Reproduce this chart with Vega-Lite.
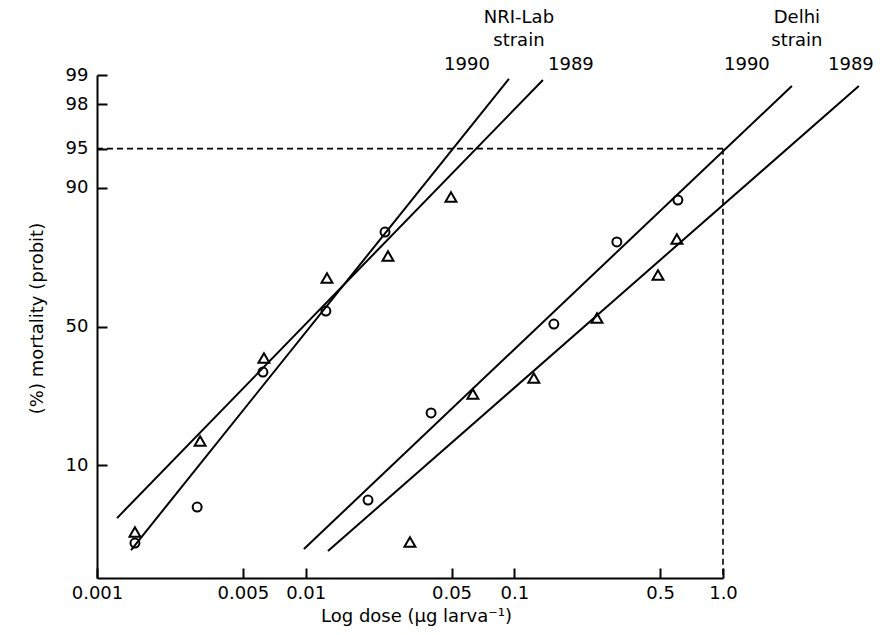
{
  "$schema": "https://vega.github.io/schema/vega-lite/v6.json",
  "width": 626,
  "height": 503,
  "autosize": {"type": "none"},
  "padding": {"left": 97, "top": 75, "right": 159, "bottom": 57},
  "background": "white",
  "config": {
    "view": {"stroke": null},
    "font": "DejaVu Sans",
    "axis": {
      "grid": false,
      "domainColor": "black",
      "domainWidth": 2,
      "tickColor": "black",
      "tickWidth": 2,
      "labelColor": "black",
      "titleColor": "black",
      "labelFont": "DejaVu Sans",
      "titleFont": "DejaVu Sans",
      "labelFontSize": 18,
      "titleFontSize": 18,
      "titleFontWeight": "normal"
    }
  },
  "datasets": {
    "fits": [
      {"strain": "NRI-Lab", "year": "1990", "dose": 0.001456, "probit": 2.932, "dose2": 0.0942, "probit2": 7.29},
      {"strain": "NRI-Lab", "year": "1989", "dose": 0.001247, "probit": 3.228, "dose2": 0.1371, "probit2": 7.28},
      {"strain": "Delhi", "year": "1990", "dose": 0.00981, "probit": 2.942, "dose2": 2.138, "probit2": 7.225},
      {"strain": "Delhi", "year": "1989", "dose": 0.01279, "probit": 2.923, "dose2": 4.478, "probit2": 7.225}
    ],
    "guides": [
      {"dose": 0.001, "probit": 6.6449, "dose2": 1.0, "probit2": 6.6449},
      {"dose": 1.0, "probit": 6.6449, "dose2": 1.0, "probit2": 2.6737}
    ],
    "points": [
      {"strain": "NRI-Lab", "year": "1990", "dose": 0.00152, "probit": 2.997},
      {"strain": "NRI-Lab", "year": "1990", "dose": 0.00302, "probit": 3.33},
      {"strain": "NRI-Lab", "year": "1990", "dose": 0.00624, "probit": 4.579},
      {"strain": "NRI-Lab", "year": "1990", "dose": 0.0125, "probit": 5.143},
      {"strain": "NRI-Lab", "year": "1990", "dose": 0.024, "probit": 5.874},
      {"strain": "NRI-Lab", "year": "1989", "dose": 0.00152, "probit": 3.099},
      {"strain": "NRI-Lab", "year": "1989", "dose": 0.00312, "probit": 3.941},
      {"strain": "NRI-Lab", "year": "1989", "dose": 0.00631, "probit": 4.709},
      {"strain": "NRI-Lab", "year": "1989", "dose": 0.01265, "probit": 5.449},
      {"strain": "NRI-Lab", "year": "1989", "dose": 0.0248, "probit": 5.652},
      {"strain": "NRI-Lab", "year": "1989", "dose": 0.0497, "probit": 6.198},
      {"strain": "Delhi", "year": "1990", "dose": 0.0199, "probit": 3.395},
      {"strain": "Delhi", "year": "1990", "dose": 0.0399, "probit": 4.2},
      {"strain": "Delhi", "year": "1990", "dose": 0.1547, "probit": 5.023},
      {"strain": "Delhi", "year": "1990", "dose": 0.31, "probit": 5.782},
      {"strain": "Delhi", "year": "1990", "dose": 0.608, "probit": 6.17},
      {"strain": "Delhi", "year": "1989", "dose": 0.0316, "probit": 3.006},
      {"strain": "Delhi", "year": "1989", "dose": 0.0633, "probit": 4.376},
      {"strain": "Delhi", "year": "1989", "dose": 0.124, "probit": 4.524},
      {"strain": "Delhi", "year": "1989", "dose": 0.249, "probit": 5.079},
      {"strain": "Delhi", "year": "1989", "dose": 0.488, "probit": 5.476},
      {"strain": "Delhi", "year": "1989", "dose": 0.601, "probit": 5.809}
    ],
    "labels": [
      {"text": "NRI-Lab\nstrain", "dose": 0.1052, "probit": 7.849},
      {"text": "1990", "dose": 0.0593, "probit": 7.419},
      {"text": "1989", "dose": 0.1867, "probit": 7.419},
      {"text": "Delhi\nstrain", "dose": 2.26, "probit": 7.849},
      {"text": "1990", "dose": 1.302, "probit": 7.419},
      {"text": "1989", "dose": 4.101, "probit": 7.419}
    ]
  },
  "encoding": {
    "x": {
      "field": "dose",
      "type": "quantitative",
      "scale": {"type": "log", "domain": [0.001, 1.0], "nice": false},
      "axis": {
        "title": "Log dose (µg larva⁻¹)",
        "values": [0.001, 0.005, 0.01, 0.05, 0.1, 0.5, 1.0],
        "labelExpr": "datum.value == 1 ? '1.0' : toString(datum.value)",
        "tickSize": -10,
        "labelPadding": 16,
        "titlePadding": 5,
        "titleX": 319,
        "labelFlush": false
      }
    },
    "y": {
      "field": "probit",
      "type": "quantitative",
      "scale": {"domain": [2.6737, 7.3263], "nice": false, "zero": false},
      "axis": {
        "title": "(%) mortality (probit)",
        "values": [3.7184, 5.0, 6.2816, 6.6449, 7.0537, 7.3263],
        "labelExpr": "format(round(cumulativeNormal(datum.value - 5) * 100), 'd')",
        "tickSize": -10,
        "labelPadding": 19,
        "titlePadding": 19,
        "titleY": 243,
        "labelFlush": false
      }
    }
  },
  "layer": [
    {
      "data": {"name": "guides"},
      "mark": {"type": "rule", "color": "black", "strokeWidth": 1.6, "strokeDash": [6, 4]},
      "encoding": {
        "x2": {"field": "dose2"},
        "y2": {"field": "probit2"}
      }
    },
    {
      "data": {"name": "fits"},
      "mark": {"type": "rule", "color": "black", "strokeWidth": 2},
      "encoding": {
        "x2": {"field": "dose2"},
        "y2": {"field": "probit2"},
        "detail": [{"field": "strain"}, {"field": "year"}]
      }
    },
    {
      "data": {"name": "points"},
      "mark": {"type": "point", "filled": false, "color": "black", "strokeWidth": 2, "opacity": 1},
      "encoding": {
        "shape": {
          "field": "year",
          "type": "nominal",
          "scale": {"domain": ["1990", "1989"], "range": ["circle", "triangle-up"]},
          "legend": null
        },
        "size": {
          "field": "year",
          "type": "ordinal",
          "scale": {"domain": ["1990", "1989"], "range": [80, 120]},
          "legend": null
        }
      }
    },
    {
      "data": {"name": "labels"},
      "mark": {
        "type": "text",
        "font": "DejaVu Sans",
        "fontSize": 18,
        "color": "black",
        "align": "center",
        "baseline": "middle",
        "lineBreak": "\n",
        "lineHeight": 23
      },
      "encoding": {
        "text": {"field": "text"}
      }
    }
  ]
}
